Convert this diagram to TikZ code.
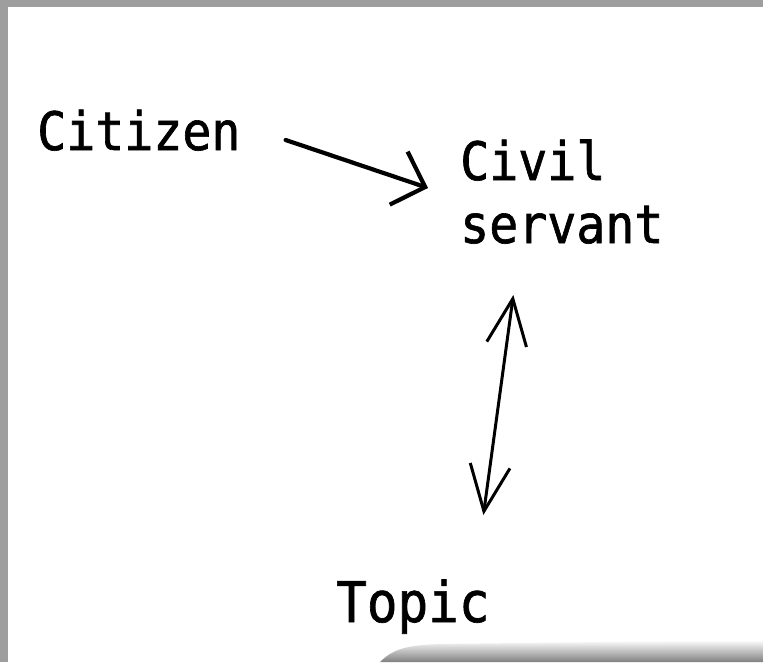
\documentclass[tikz,border=0pt]{standalone}
\usepackage{fontspec}
\usepackage{tikz}
\usetikzlibrary{arrows.meta,positioning}
\newfontfamily\wordfont[FakeStretch=0.91,FakeBold=1.2]{DejaVu Sans Mono}
\definecolor{frame}{RGB}{158,158,158}
\tikzstyle{word} = [inner sep=0pt, anchor=base west, align=left, font=\wordfont\fontsize{53}{63}\selectfont]
\tikzstyle{line} = [draw, line width=3pt, line cap=round, line join=round]
\tikzset{>={Straight Barb[length=46pt,width=40pt]}}

\begin{document}
\begin{tikzpicture}[x=1pt,y=1pt]
      \useasboundingbox (0,0) rectangle (763,-662);
      \fill [frame] (0,0) rectangle (763,-662);
      \fill [white] (8,-7) rectangle (763,-662);
      \shade [top color=white, bottom color=black!50] (380,-662) .. controls (392,-650) and (405,-645) .. (440,-644) -- (763,-640) -- (763,-662) -- cycle;
      \node [word] (citizen) at (37,-150) {Citizen};
      \node [word] (civil) at (460,-243) {Civil\\servant};
      \node [word,font=\wordfont\fontsize{56}{63}\selectfont] (topic) at (336,-622) {Topic};
      \path [line,line width=4.2pt,-{Straight Barb[length=28pt,width=56pt]}] ([xshift=45pt,yshift=10pt]citizen.base east) -- ([xshift=-32pt,yshift=55pt]civil.base west);
      \path [line,<->] ([xshift=-48.5pt,yshift=-52pt]civil.base) -- ([xshift=70.5pt,yshift=107pt]topic.base);
    \end{tikzpicture}
\end{document}
